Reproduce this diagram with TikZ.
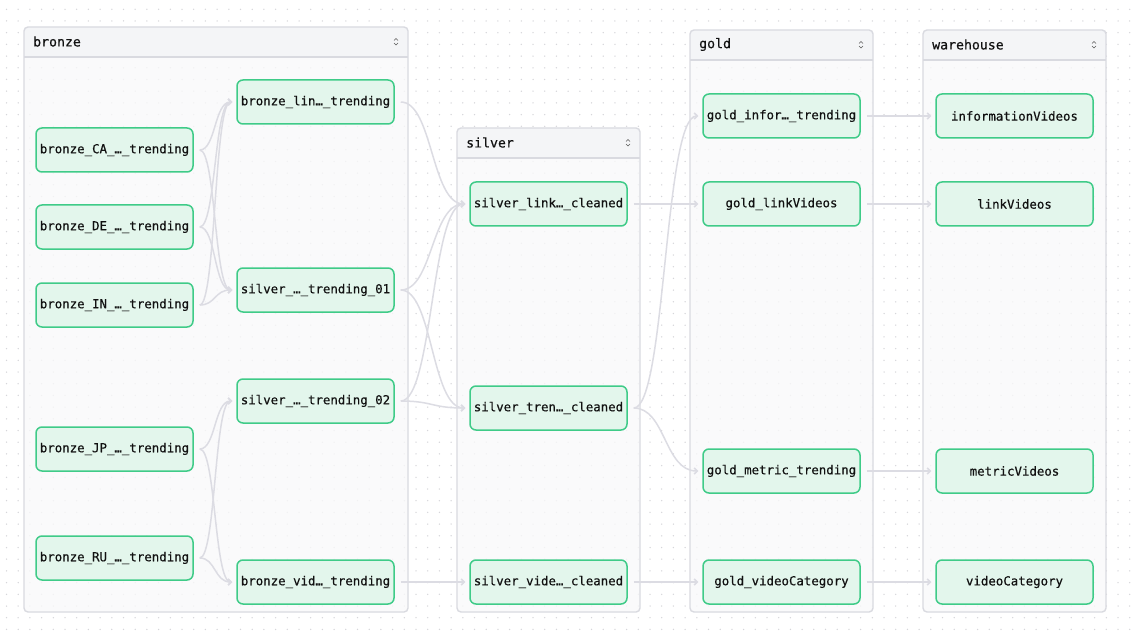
\documentclass[tikz,border=0pt]{standalone}
\usepackage{fontspec}
\newfontfamily\monof{DejaVu Sans Mono}[FakeBold=0.45]
\usetikzlibrary{arrows.meta}
\definecolor{edgec}{HTML}{DCDCE3}
\definecolor{dotc}{HTML}{D6D6DA}
\definecolor{grpbodyc}{HTML}{F9F9FA}
\definecolor{grpheadc}{HTML}{F4F5F7}
\definecolor{grplinec}{HTML}{D9DAE0}
\definecolor{nodefill}{HTML}{E3F6EC}
\definecolor{nodeline}{HTML}{3FCB88}
\definecolor{txtc}{HTML}{111111}
\tikzset{
  tbl/.style={draw=nodeline, fill=nodefill, line width=1.5pt, rounded corners=6pt,
    minimum width=157pt, minimum height=44pt, inner sep=0pt, text=txtc,
    font=\monof\fontsize{12.4}{14}\selectfont},
  grptitle/.style={inner sep=0pt, text=txtc, font=\monof\fontsize{13.2}{15}\selectfont},
  grpline/.style={draw=grplinec, line width=1.4pt},
  edge/.style={draw=edgec, line width=1.5pt, -{Straight Barb[length=3pt,width=6pt]},
    shorten <=6pt, shorten >=4pt, out=0, in=180},
  chev/.style={draw=black!65, line width=0.6pt}
}
\newcommand\mygroup[6]{%
  \fill[grpbodyc, fill opacity=0.78, rounded corners=4pt] (#3,#4) rectangle (#5,#6);
  \begin{scope}
    \clip[rounded corners=4pt] (#3,#4) rectangle (#5,#6);
    \fill[grpheadc] (#3,#4) rectangle (#5,{#4+30});
  \end{scope}
  \draw[grpline] (#3,{#4+30}) -- (#5,{#4+30});
  \draw[grpline, rounded corners=4pt] (#3,#4) rectangle (#5,#6);
  \node[grptitle, anchor=west] (#1) at ({#3+9},{#4+14.5}) {#2};
  \draw[chev] ({#5-14},{#4+13.5}) -- ({#5-12},{#4+11.5}) -- ({#5-10},{#4+13.5});
  \draw[chev] ({#5-14},{#4+16}) -- ({#5-12},{#4+18}) -- ({#5-10},{#4+16});
}
\begin{document}
\begin{tikzpicture}[x=1pt, y=-1pt]
\useasboundingbox (0,0) rectangle (1131,636);
\fill[white] (0,0) rectangle (1131,636);
\foreach \i in {0,...,96} {
  \foreach \j in {0,...,54} {
    \fill[dotc] ({6.5+11.7*\i},{9.3+11.7*\j}) circle (0.75);
  }
}
% groups
\mygroup{gbronze}{bronze}{24}{27}{408}{612}
\mygroup{gsilver}{silver}{457}{128}{640}{612}
\mygroup{ggold}{gold}{690}{30}{873}{612}
\mygroup{gwh}{warehouse}{923}{30}{1106}{612}
% bronze column 1
\node[tbl] (ca) at (114.5,150) {bronze\_CA\_…\_trending};
\node[tbl] (de) at (114.5,227) {bronze\_DE\_…\_trending};
\node[tbl] (in) at (114.5,305) {bronze\_IN\_…\_trending};
\node[tbl] (jp) at (114.5,449) {bronze\_JP\_…\_trending};
\node[tbl] (ru) at (114.5,558) {bronze\_RU\_…\_trending};
% bronze column 2
\node[tbl] (blin) at (315.5,102) {bronze\_lin…\_trending};
\node[tbl] (s01) at (315.5,290) {silver\_…\_trending\_01};
\node[tbl] (s02) at (315.5,401) {silver\_…\_trending\_02};
\node[tbl] (bvid) at (315.5,582) {bronze\_vid…\_trending};
% silver
\node[tbl] (slink) at (548.5,204) {silver\_link…\_cleaned};
\node[tbl] (stren) at (548.5,408) {silver\_tren…\_cleaned};
\node[tbl] (svide) at (548.5,582) {silver\_vide…\_cleaned};
% gold
\node[tbl] (ginfo) at (781.5,116) {gold\_infor…\_trending};
\node[tbl] (glink) at (781.5,204) {gold\_linkVideos};
\node[tbl] (gmet) at (781.5,471) {gold\_metric\_trending};
\node[tbl] (gvc) at (781.5,582) {gold\_videoCategory};
% warehouse
\node[tbl] (winfo) at (1014.5,116) {informationVideos};
\node[tbl] (wlink) at (1014.5,204) {linkVideos};
\node[tbl] (wmet) at (1014.5,471) {metricVideos};
\node[tbl] (wvc) at (1014.5,582) {videoCategory};
% edges bronze -> bronze
\foreach \s in {ca,de,in} {
  \draw[edge, distance=22pt] (\s.east) to (blin.west);
  \draw[edge, distance=22pt] (\s.east) to (s01.west);
}
\foreach \s in {jp,ru} {
  \draw[edge, distance=22pt] (\s.east) to (s02.west);
  \draw[edge, distance=22pt] (\s.east) to (bvid.west);
}
% bronze -> silver
\draw[edge, distance=38pt] (blin.east) to (slink.west);
\draw[edge, distance=38pt] (s01.east) to (slink.west);
\draw[edge, distance=38pt] (s01.east) to (stren.west);
\draw[edge, distance=38pt] (s02.east) to (slink.west);
\draw[edge, distance=38pt] (s02.east) to (stren.west);
\draw[edge, distance=38pt] (bvid.east) to (svide.west);
% silver -> gold
\draw[edge, distance=38pt] (slink.east) to (glink.west);
\draw[edge, distance=38pt] (stren.east) to (ginfo.west);
\draw[edge, distance=38pt] (stren.east) to (gmet.west);
\draw[edge, distance=38pt] (svide.east) to (gvc.west);
% gold -> warehouse
\draw[edge, distance=38pt] (ginfo.east) to (winfo.west);
\draw[edge, distance=38pt] (glink.east) to (wlink.west);
\draw[edge, distance=38pt] (gmet.east) to (wmet.west);
\draw[edge, distance=38pt] (gvc.east) to (wvc.west);
\end{tikzpicture}
\end{document}
